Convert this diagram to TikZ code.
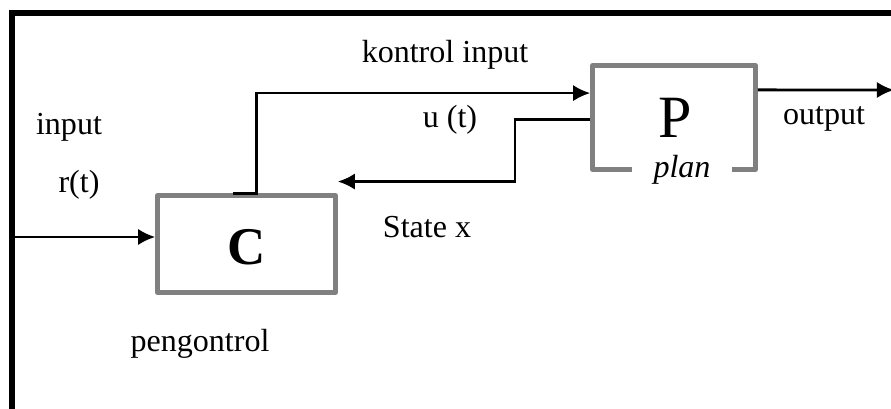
\documentclass[tikz,border=0pt]{standalone}
\usepackage{fontspec}
\setmainfont{Liberation Serif}
\usetikzlibrary{arrows.meta,positioning,calc}
\definecolor{ink}{HTML}{000000}
\definecolor{boxgray}{HTML}{808080}

\begin{document}
\begin{tikzpicture}[x=1cm,y=1cm,>={Latex[length=4.3mm,width=4.1mm]},every node/.style={text=ink},lbl/.style={anchor=base,font=\fontsize{22.8}{27}\selectfont},block/.style={draw=boxgray,line width=3.2pt,line join=round,minimum width=4.45cm,minimum height=2.43cm,inner sep=0pt},flow/.style={->,ink,line width=2pt},frame/.style={ink,line width=3.6pt}]
\path[use as bounding box] (0,0) rectangle (22.275,10.225);

% frame
\draw[frame] (0.3,-0.2) |- (22.5,9.9);

% blocks
\node[block] (c) at (6.1625,4.125) {};
\node[anchor=base,font=\fontsize{37.7}{40}\selectfont\bfseries] (ctxt) at (6.175,3.6) {C};
\node[block,minimum width=4.075cm,minimum height=2.6cm] (p) at (16.85,7.2875) {};
\node[anchor=base,font=\fontsize{42.7}{46}\selectfont] (ptxt) at (16.875,6.775) {P};
\node[lbl,fill=white,minimum width=2.5cm,inner sep=1pt,font=\fontsize{22.8}{27}\selectfont\itshape] (plan) at (17.05,5.775) {plan};

% signals
\coordinate (src) at (0.36,4.3);
\coordinate (snk) at (22.35,7.975);
\draw[flow] (src) -- (src -| c.west);
\draw[flow] ([xshift=-3.4mm]c.north) -- ([xshift=2.4mm]c.north) |- ([yshift=6.1mm]p.west);
\draw[flow] ([yshift=-0.6mm]p.west) -- ++(-1.88,0) |- ([yshift=2.9mm]c.north east);
\draw[flow] ([yshift=6.9mm]p.east) -- (snk);

% labels
\node[lbl] (lin) at (1.725,6.85) {input};
\node[lbl] (lr) at (1.975,5.4) {r(t)};
\node[lbl] (lk) at (11.125,8.65) {kontrol input};
\node[lbl] (lu) at (11.25,7.025) {u (t)};
\node[lbl] (ls) at (10.675,4.275) {State x};
\node[lbl] (lc) at (5.0,1.425) {pengontrol};
\node[lbl] (lout) at (20.6,7.1) {output};

\end{tikzpicture}
\end{document}
